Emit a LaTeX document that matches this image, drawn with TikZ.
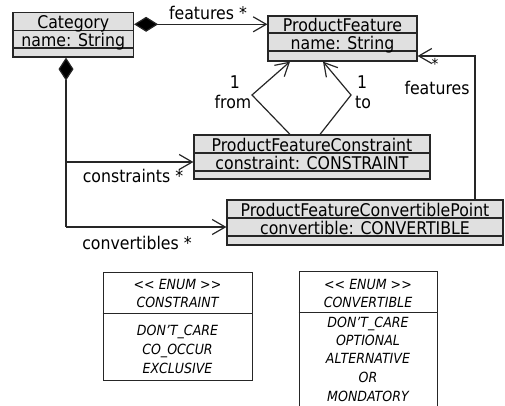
\documentclass[tikz,border=0pt]{standalone}
\usepackage{fontspec}
\setmainfont{DejaVu Sans Condensed}
\usetikzlibrary{arrows.meta}
\definecolor{boxfill}{RGB}{224,224,224}
\definecolor{ink}{RGB}{38,38,38}

% #1 name, #2 left, #3 top, #4 right, #5 bottom, #6 first divider, #7 second divider, #8 title, #9 attribute
\newcommand\umlclass[9]{%
  \node[clsbox, minimum width={(#4-#2)*1pt}, minimum height={(#5-#3)*1pt}]
    (#1) at ({(#2+#4)/2},{(#3+#5)/2}) {};
  \draw[divider] (#1.west |- 0,#6) -- (#1.east |- 0,#6);
  \draw[divider] (#1.west |- 0,#7) -- (#1.east |- 0,#7);
  \node[clstext] (#1-title) at ({(#2+#4)/2},{#6-2}) {#8};
  \node[clstext] (#1-attr) at ({(#2+#4)/2},{#7-2}) {#9};
}

\begin{document}
\begin{tikzpicture}[x=1pt,y=-1pt,
  clsbox/.style={draw=ink, fill=boxfill, line width=1.2pt, inner sep=0pt},
  enumbox/.style={draw=ink, fill=white, line width=0.9pt, inner sep=0pt},
  divider/.style={draw=ink, line width=1.2pt},
  clstext/.style={anchor=base, inner sep=0pt, font=\fontsize{17.5}{19}\selectfont},
  lbl/.style={inner sep=0pt, font=\fontsize{17.5}{19}\selectfont},
  enumtext/.style={inner sep=0pt, anchor=base, font=\fontsize{14}{16}\selectfont\itshape},
  assoc/.style={draw=ink, line width=1.2pt, -{Straight Barb[length=13pt,width=15pt,line width=1.2pt]}},
  comp/.style={assoc, {Diamond[length=24pt,width=15pt,fill=black]}-{Straight Barb[length=13pt,width=15pt,line width=1.2pt]}}
]
\useasboundingbox (0,0) rectangle (505,405);

% class boxes
\umlclass{cat}{13}{12.5}{133.5}{57}{30.5}{48}{Category}{name: String}
\umlclass{pf}{268}{16}{417}{61}{33}{51}{ProductFeature}{name: String}
\umlclass{pfc}{194}{135}{430}{179}{153}{171}{ProductFeatureConstraint}{constraint: CONSTRAINT}
\umlclass{pfcp}{227}{200}{503}{245}{218}{236}{ProductFeatureConvertiblePoint}{convertible: CONVERTIBLE}

% enumeration boxes
\node[enumbox, minimum width=149pt, minimum height=108pt] (econ) at (177.5,326) {};
\draw[enumbox] (econ.west |- 0,313) -- (econ.east |- 0,313);
\node[enumtext] at (177.5,289) {<{}< ENUM >{}>};
\node[enumtext] at (177.5,307) {CONSTRAINT};
\node[enumtext] at (177.5,335) {DON'T\_CARE};
\node[enumtext] at (177.5,354) {CO\_OCCUR};
\node[enumtext] at (177.5,373) {EXCLUSIVE};

\node[enumbox, minimum width=138pt, minimum height=136pt, anchor=north] (econv) at (368,271) {};
\draw[enumbox] (econv.west |- 0,312) -- (econv.east |- 0,312);
\node[enumtext] at (368,289) {<{}< ENUM >{}>};
\node[enumtext] at (368,307) {CONVERTIBLE};
\node[enumtext] at (368,327) {DON'T\_CARE};
\node[enumtext] at (368,345) {OPTIONAL};
\node[enumtext] at (368,363) {ALTERNATIVE};
\node[enumtext] at (368,382) {OR};
\node[enumtext] at (368,401) {MONDATORY};

% connector end points on the box edges
\coordinate (catR) at (cat.east |- 0,24.3);
\coordinate (pfL) at (pf.west |- 0,24.3);
\coordinate (catB) at (cat.south -| 66,0);
\coordinate (turnC) at (66,162);
\coordinate (turnV) at (66,227);
\coordinate (pfcL) at (pfc.west |- 0,162);
\coordinate (pfcpL) at (pfcp.west |- 0,227);
\coordinate (fromS) at (pfc.north -| 290,0);
\coordinate (fromK) at (252,95);
\coordinate (fromT) at (pf.south -| 290,0);
\coordinate (toS) at (pfc.north -| 320,0);
\coordinate (toK) at (351,95);
\coordinate (toT) at (pf.south -| 323,0);
\coordinate (featS) at (pfcp.north -| 475,0);
\coordinate (featK) at (475,56);
\coordinate (pfR) at (pf.east |- 0,56);

% associations
\draw[comp] (catR) -- (pfL);
\draw[draw=ink, line width=1.2pt, {Diamond[length=23pt,width=15pt,fill=black]}-] (catB) -- (turnV);
\draw[assoc] (turnC) -- (pfcL);
\draw[assoc] (turnV) -- (pfcpL);
\draw[assoc] (fromS) -- (fromK) -- (fromT);
\draw[assoc] (toS) -- (toK) -- (toT);
\draw[assoc] (featS) -- (featK) -- (pfR);

% role names and multiplicities
\node[lbl] (lfeat) at (208,13) {features *};
\node[lbl] (lone1) at (235,82) {1};
\node[lbl] (lfrom) at (233,102) {from};
\node[lbl] (lone2) at (362,82) {1};
\node[lbl] (lto) at (363,102) {to};
\node[lbl, font=\fontsize{15}{15}\selectfont] (lstar) at (435,64) {*};
\node[lbl] (lfeat2) at (437,88) {features};
\node[lbl] (lcons) at (133,176) {constraints *};
\node[lbl] (lconv) at (137,243) {convertibles *};
\end{tikzpicture}
\end{document}
